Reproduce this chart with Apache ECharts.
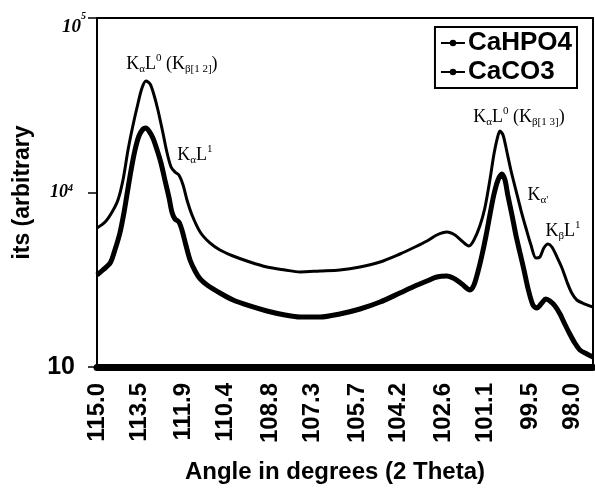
<!DOCTYPE html>
<html>
<head>
<meta charset="utf-8">
<script src="https://cdn.jsdelivr.net/npm/echarts@6/dist/echarts.min.js"></script>
<style>
html,body{margin:0;padding:0;background:#fff;}
#chart{width:595px;height:490px;}
</style>
</head>
<body>
<div id="chart"></div>
<script>
// ---- data ----
const xTickLabels = ['115.0','113.5','111.9','110.4','108.8','107.3','105.7','104.2','102.6','101.1','99.5','98.0'];
const yTickValues = [1000, 10000, 100000];
const yTickLabels = ['10', '10|4', '10|5'];   // base|superscript

const seriesNames = ['CaHPO4', 'CaCO3'];

const anglesCaHPO4 = [115.00,114.71,114.46,114.25,114.07,113.89,113.71,113.53,113.39,113.25,113.10,112.96,112.82,112.64,112.50,112.35,112.21,112.07,111.92,111.78,111.60,111.31,110.96,110.60,110.13,109.53,108.92,108.27,107.74,107.02,106.31,105.59,104.87,104.16,103.62,103.19,102.84,102.48,102.19,101.94,101.69,101.51,101.30,101.12,100.94,100.80,100.69,100.58,100.47,100.33,100.19,100.01,99.83,99.65,99.47,99.29,99.15,99.01,98.86,98.72,98.54,98.36,98.18,98.01,97.83,97.54,97.25];
const countsCaHPO4 = [6261,6773,7732,9058,11790,17520,24370,32580,39700,43550,41850,36200,29710,21930,17070,14000,13110,12600,11040,9058,7432,5939,5137,4683,4326,3996,3742,3597,3503,3549,3597,3742,3996,4442,4872,5275,5708,5939,5708,5275,4937,5344,6427,8152,11790,16400,19990,22510,21360,17070,13460,10330,7937,6261,5002,4214,4271,4808,5069,4872,4271,3693,3070,2655,2421,2296,2207];

const anglesCaCO3 = [115.00,114.79,114.53,114.36,114.18,114.03,113.93,113.78,113.64,113.50,113.35,113.25,113.14,113.00,112.85,112.71,112.57,112.42,112.32,112.21,112.07,111.96,111.82,111.67,111.49,111.31,111.06,110.60,110.13,109.53,108.92,108.27,107.74,107.02,106.31,105.59,104.87,104.16,103.62,103.19,102.84,102.48,102.19,101.94,101.65,101.51,101.37,101.23,101.08,100.94,100.80,100.65,100.51,100.40,100.30,100.15,100.01,99.87,99.72,99.58,99.40,99.26,99.08,98.94,98.79,98.61,98.43,98.26,98.08,97.90,97.72,97.47,97.25];
const countsCaCO3 = [3367,3597,3944,4683,5861,7732,9676,13460,17520,21080,23120,23420,22510,20530,17520,14760,11790,9301,7732,7050,6773,6098,5002,4104,3549,3194,2951,2655,2421,2237,2094,1986,1934,1934,2013,2150,2357,2655,2912,3111,3280,3323,3194,2990,2763,2951,3503,4326,5634,7432,9676,11790,12760,11790,9676,7432,5708,4560,3597,2836,2266,2178,2327,2453,2389,2237,2013,1764,1546,1373,1251,1187,1141];

// peak annotations: [angle, count] anchor on CaHPO4 curve and rich text
const annotAnchors = [[113.25, 43550], [112.21, 13110], [100.58, 22510], [99.65, 6261], [98.86, 5069]];
const annotTexts = [
  '{b|K}{s|α}{b|L}{p|0}{b| (K}{s|β[1 2]}{b|)}',
  '{b|K}{s|α}{b|L}{p|1}',
  '{b|K}{s|α}{b|L}{p|0}{b| (K}{s|β[1 3]}{b|)}',
  '{b|K}{s|α\'}',
  '{b|K}{s|β}{b|L}{p|1}'
];
const annotOffsets = [[26,-17],[20,-17],[19,-14],[12,-33],[15,-13]];

// ---- chart ----
const zip = (a, b) => a.map((v, i) => [v, b[i]]);
const chart = echarts.init(document.getElementById('chart'));
const sans = '"Liberation Sans", Arial, sans-serif';
const serif = '"Liberation Serif", "Times New Roman", serif';

const richAnnot = {
  b: {fontFamily: serif, fontSize: 18, color: '#000', lineHeight: 22, verticalAlign: 'middle'},
  s: {fontFamily: serif, fontSize: 11, color: '#000', verticalAlign: 'bottom'},
  p: {fontFamily: serif, fontSize: 11, color: '#000', verticalAlign: 'top'}
};

chart.setOption({
  animation: false,
  backgroundColor: '#fff',
  grid: {left: 97, right: 2, top: 18, bottom: 123, show: true, borderColor: '#000', borderWidth: 2, backgroundColor: 'transparent'},
  legend: {
    orient: 'vertical', right: 18, top: 27,
    borderColor: '#000', borderWidth: 2, padding: [3, 5, 3, 5],
    backgroundColor: '#fff',
    itemGap: 3, itemWidth: 24, itemHeight: 8,
    lineStyle: {width: 2, color: '#000'},
    itemStyle: {color: '#000'},
    textStyle: {fontFamily: sans, fontWeight: 'bold', fontSize: 26, color: '#000', padding: [0,0,0,-2]},
    data: seriesNames
  },
  xAxis: {
    type: 'value', inverse: true, min: 97.25, max: 115,
    name: 'Angle in degrees (2 Theta)', nameLocation: 'middle', nameGap: 93,
    nameTextStyle: {fontFamily: sans, fontWeight: 'bold', fontSize: 24, color: '#000', padding: [0, 20, 0, 0]},
    axisLine: {show: true, lineStyle: {color: '#000', width: 7}},
    axisTick: {show: false},
    splitLine: {show: false},
    axisLabel: {
      customValues: xTickLabels.map(Number),
      formatter: v => v.toFixed(1),
      rotate: 90, margin: 16,
      fontFamily: sans, fontWeight: 'bold', fontSize: 24, color: '#000'
    }
  },
  yAxis: {
    type: 'log', logBase: 10, min: 1000, max: 100000,
    name: 'its (arbitrary', nameLocation: 'middle', nameGap: 63, nameRotate: 90,
    nameTextStyle: {fontFamily: sans, fontWeight: 'bold', fontSize: 23, color: '#000'},
    axisLine: {show: true, lineStyle: {color: '#000', width: 2}},
    axisTick: {show: true, customValues: yTickValues, length: 9, lineStyle: {color: '#000', width: 1.5}},
    splitLine: {show: false},
    minorTick: {show: false},
    axisLabel: {
      customValues: yTickValues,
      margin: 11,
      formatter: v => {
        const i = yTickValues.findIndex(t => Math.abs(Math.log10(t) - Math.log10(v)) < 1e-6);
        const lab = yTickLabels[i];
        if (i === 0) return '{b0|' + lab + '}';
        const [base, sup] = lab.split('|');
        if (i === 1) return '{m|' + base + '}{ms|' + sup + '}';
        return '{t|' + base + '}{ts|' + sup + '}';
      },
      rich: {
        b0: {fontFamily: sans, fontWeight: 'bold', fontSize: 25, color: '#000', padding: [0, 11, 0, 0]},
        m: {fontFamily: serif, fontWeight: 'bold', fontStyle: 'italic', fontSize: 18, color: '#000'},
        ms: {fontFamily: serif, fontWeight: 'bold', fontStyle: 'italic', fontSize: 10, color: '#000', verticalAlign: 'top', padding: [0, 13, 0, 0]},
        t: {fontFamily: serif, fontWeight: 'bold', fontStyle: 'italic', fontSize: 19, color: '#000', padding: [18, 0, 0, 0]},
        ts: {fontFamily: serif, fontWeight: 'bold', fontStyle: 'italic', fontSize: 10, color: '#000', verticalAlign: 'top', padding: [12, 0, 0, 0]}
      }
    }
  },
  series: [
    {
      name: seriesNames[0], type: 'line', data: zip(anglesCaHPO4, countsCaHPO4),
      smooth: 0.3, showSymbol: false, symbol: 'circle', symbolSize: 5,
      lineStyle: {color: '#000', width: 3}, itemStyle: {color: '#000'},
      markPoint: {
        symbol: 'circle', symbolSize: 0,
        data: annotAnchors.map((c, i) => ({
          coord: c,
          label: {show: true, position: 'inside', offset: annotOffsets[i], formatter: annotTexts[i], rich: richAnnot}
        }))
      }
    },
    {
      name: seriesNames[1], type: 'line', data: zip(anglesCaCO3, countsCaCO3),
      smooth: 0.3, showSymbol: false, symbol: 'circle', symbolSize: 5,
      lineStyle: {color: '#000', width: 5}, itemStyle: {color: '#000'}
    }
  ]
});
</script>
</body>
</html>
